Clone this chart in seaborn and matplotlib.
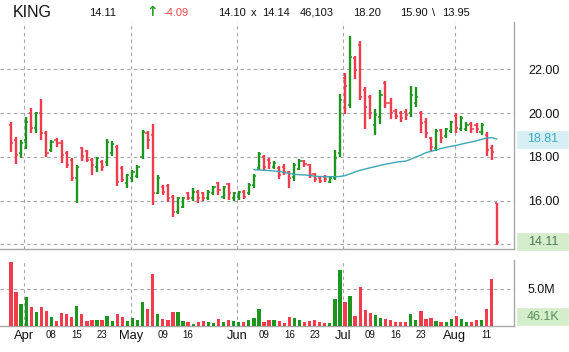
import numpy as np
import pandas as pd
import matplotlib
matplotlib.use('Agg')
import matplotlib.pyplot as plt
import matplotlib.transforms as mtransforms
from matplotlib.patches import Rectangle
import seaborn as sns

# ==================== data ====================
holidays = ['2014-04-18', '2014-05-26', '2014-07-04']
dates = pd.bdate_range('2014-03-27', '2014-08-13')
dates = dates[~dates.isin(pd.to_datetime(holidays))]

opens = [19.45, 18.77, 18.16, 18.77, 19.99, 19.30, 19.99, 19.07, 18.31, 18.77,
         18.62, 18.16, 17.85, 17.02, 18.39, 18.27, 17.85, 17.55, 17.78, 17.78,
         18.16, 18.46, 17.47, 16.79, 17.02, 17.14, 18.01, 19.07, 19.00, 16.33,
         16.63, 16.68, 16.18, 15.49, 15.72, 16.33, 16.10, 16.41, 16.33, 16.13,
         16.33, 16.79, 16.18, 16.74, 16.10, 16.18, 16.41, 16.33, 16.71, 17.47,
         18.01, 17.85, 17.55, 17.50, 17.55, 17.32, 17.09, 17.44, 17.81, 17.63,
         17.20, 17.02, 17.09, 16.86, 17.05, 18.16, 21.60, 20.37, 22.50, 23.11,
         21.05, 20.75, 19.45, 19.84, 21.36, 20.45, 20.09, 19.99, 20.03, 19.99,
         20.45, 19.99, 19.61, 18.84, 18.39, 19.23, 18.97, 19.18, 19.88, 19.27,
         19.27, 19.50, 19.45, 19.12, 19.00, 18.39, 15.90]
highs = [19.61, 18.92, 18.77, 19.80, 20.22, 20.03, 20.64, 19.18, 18.77, 18.87,
         18.77, 18.27, 17.93, 17.63, 18.46, 18.31, 17.93, 17.98, 17.85, 18.80,
         18.72, 18.54, 17.59, 17.21, 17.38, 17.63, 19.23, 19.18, 19.50, 17.17,
         16.71, 16.74, 16.25, 16.18, 16.18, 16.41, 16.56, 16.48, 16.41, 16.48,
         16.66, 16.86, 16.66, 16.82, 16.41, 16.45, 16.48, 16.79, 17.21, 18.23,
         18.08, 17.93, 17.81, 17.59, 17.66, 17.37, 17.73, 17.88, 17.85, 17.67,
         17.26, 17.06, 17.17, 17.06, 18.31, 20.87, 21.82, 23.52, 22.61, 23.30,
         21.21, 20.83, 20.19, 21.05, 21.47, 20.67, 20.19, 20.09, 20.19, 21.24,
         21.21, 20.09, 19.76, 18.92, 19.27, 19.27, 19.33, 19.64, 19.99, 19.87,
         19.58, 19.58, 19.56, 19.53, 19.15, 18.54, 15.90]
lows = [18.23, 17.66, 17.93, 18.36, 19.07, 19.07, 18.77, 18.01, 18.23, 18.46,
        17.70, 17.47, 16.91, 15.87, 17.81, 17.75, 17.17, 17.32, 17.35, 17.59,
        18.04, 16.68, 16.83, 16.59, 16.86, 17.05, 17.90, 18.36, 15.80, 16.28,
        16.25, 15.92, 15.26, 15.37, 15.64, 16.02, 15.98, 15.87, 15.98, 16.02,
        16.25, 16.25, 16.07, 16.02, 15.98, 16.02, 16.07, 16.25, 16.59, 17.40,
        17.40, 17.44, 17.44, 16.98, 17.17, 16.56, 16.89, 17.40, 17.55, 17.05,
        16.83, 16.79, 16.86, 16.79, 16.94, 18.01, 19.94, 20.25, 21.56, 20.60,
        19.27, 19.73, 19.00, 19.50, 20.25, 19.73, 19.73, 19.58, 19.68, 19.84,
        20.29, 19.07, 18.84, 18.27, 18.27, 18.62, 18.84, 19.07, 19.07, 19.18,
        19.18, 19.07, 19.07, 19.00, 18.05, 17.85, 13.95]
closes = [18.62, 18.08, 18.62, 19.61, 19.30, 19.99, 19.07, 18.16, 18.69, 18.62,
          18.08, 17.63, 17.02, 17.55, 18.05, 17.85, 17.63, 17.93, 17.55, 18.69,
          18.57, 16.86, 16.94, 17.17, 17.32, 17.55, 19.15, 18.77, 16.33, 17.02,
          16.41, 16.10, 15.49, 16.10, 16.10, 16.13, 16.41, 16.10, 16.10, 16.41,
          16.60, 16.48, 16.63, 16.33, 16.33, 16.41, 16.18, 16.71, 17.14, 18.11,
          17.55, 17.70, 17.70, 17.17, 17.32, 17.02, 17.63, 17.81, 17.66, 17.17,
          16.98, 16.89, 16.98, 17.02, 17.93, 20.60, 21.25, 22.58, 21.97, 20.75,
          20.29, 19.99, 19.91, 20.83, 20.45, 19.99, 19.88, 19.76, 19.91, 20.83,
          20.75, 19.53, 19.07, 18.46, 19.18, 18.84, 19.27, 19.58, 19.30, 19.76,
          19.45, 19.27, 19.27, 19.45, 18.31, 18.20, 14.11]
# volume in millions
volumes = [8.57, 4.55, 2.90, 3.88, 2.54, 1.88, 2.54, 2.00, 1.20, 0.67,
           1.74, 1.60, 1.20, 2.63, 1.56, 0.67, 0.76, 0.76, 0.76, 1.34,
           0.67, 1.56, 1.20, 0.62, 1.03, 0.76, 3.21, 2.23, 7.00, 1.56,
           0.89, 0.76, 1.88, 1.88, 0.67, 0.49, 0.27, 0.54, 0.67, 0.54,
           0.40, 0.89, 0.54, 0.76, 0.62, 0.54, 0.54, 0.76, 1.07, 2.23,
           0.54, 0.76, 0.76, 0.67, 0.40, 1.20, 1.03, 0.76, 0.54, 0.67,
           0.76, 0.54, 0.45, 0.40, 3.57, 7.46, 3.21, 4.02, 1.29, 5.22,
           2.10, 1.74, 1.43, 1.07, 0.89, 0.85, 0.54, 0.54, 0.54, 1.56,
           0.76, 2.00, 0.94, 1.07, 0.67, 0.54, 0.54, 0.98, 1.29, 0.89,
           0.54, 0.54, 0.76, 0.76, 2.23, 6.25, 0.046]
# 50-day moving average, starting 2014-06-05
ma_start = '2014-06-05'
ma50 = [17.41, 17.40, 17.38, 17.37, 17.35, 17.33, 17.28, 17.24, 17.20, 17.18,
        17.17, 17.15, 17.11, 17.10, 17.09, 17.09, 17.09, 17.10, 17.14, 17.22,
        17.31, 17.38, 17.44, 17.50, 17.55, 17.61, 17.66, 17.70, 17.75, 17.78,
        17.80, 17.89, 17.99, 18.08, 18.19, 18.25, 18.31, 18.38, 18.43, 18.48,
        18.52, 18.58, 18.63, 18.68, 18.73, 18.80, 18.85, 18.88, 18.81]

day_ticks = ['2014-04-08', '2014-04-15', '2014-04-23', '2014-05-09', '2014-05-16',
             '2014-06-09', '2014-06-16', '2014-06-23', '2014-07-09', '2014-07-16',
             '2014-07-23', '2014-08-11']
price_ticks = [16, 18, 20, 22]
price_grid = [14, 16, 18, 20, 22]

# header line: text, left x (px), size (pt), colour
header = [('KING', 13, 11.5, '#111111'), ('14.11', 89, 8, '#111111'),
          ('\u2191', 146, 10, '#22a022'), ('-4.09', 163, 8, '#e84848'),
          ('14.10', 218, 8, '#111111'), ('x', 251, 8, '#111111'),
          ('14.14', 262, 8, '#111111'), ('46,103', 300, 8, '#111111'),
          ('18.20', 353, 8, '#111111'), ('15.90', 400, 8, '#111111'),
          ('\\', 432, 8, '#111111'), ('13.95', 442, 8, '#111111')]

# ==================== styling ====================
sns.set_style('white')
plt.rcParams['font.family'] = ['Liberation Sans', 'DejaVu Sans']

UP = '#1c961f'
DOWN = '#f03c4c'
GRID = '#a4a4a4'
SPINE = '#a8a8a8'
MA_COLOR = '#3aa7b4'

pos = np.arange(len(dates))
o, h, l, c = map(np.array, (opens, highs, lows, closes))
up = c >= o
cols = np.where(up, UP, DOWN)

W, H = 569, 352
fig = plt.figure(figsize=(W / 100, H / 100), dpi=100)
ax = fig.add_axes([0, (H - 249) / H, 514 / W, (249 - 22) / H])
axv = fig.add_axes([0, (H - 326) / H, 514 / W, (326 - 260) / H])

xlim = (-2.17, 99.4)

# ---- price panel (OHLC bars + 50d MA) ----
ax.vlines(pos, l, h, colors=cols, lw=1.7, zorder=3)
ax.hlines(o, pos - 0.42, pos, colors=cols, lw=1.1, zorder=3)
ax.hlines(c, pos, pos + 0.42, colors=cols, lw=1.1, zorder=3)

ma_pos = np.arange(dates.get_loc(pd.Timestamp(ma_start)), len(dates))
sns.lineplot(x=ma_pos, y=ma50, ax=ax, color=MA_COLOR, lw=1.0, zorder=4)

ax.set_xlim(*xlim)
ax.set_ylim(13.785, 24.16)

# ---- volume panel ----
vol_df = pd.DataFrame({'pos': pos, 'vol': volumes})
sns.barplot(data=vol_df, x='pos', y='vol', hue='pos', palette=list(cols),
            width=0.65, saturation=1, errorbar=None, legend=False,
            linewidth=0, edgecolor='none', ax=axv, zorder=3)
axv.set_xlim(*xlim)
axv.set_ylim(0, 8.83)

# month boundaries: first trading day of each month
month_first = pd.Series(pos, index=dates).groupby(dates.to_period('M')).first()
month_first = month_first[month_first.index > month_first.index[0]]
month_pos = month_first.values - 0.33
month_lab = [p.strftime('%b') for p in month_first.index]
day_pos = [dates.get_loc(pd.Timestamp(d)) for d in day_ticks]
day_lab = [pd.Timestamp(d).strftime('%d') for d in day_ticks]

dash = dict(color=GRID, lw=0.8, ls=(0, (3, 3)), zorder=0)
for a in (ax, axv):
    for mp in month_pos:
        a.axvline(mp, **dash)
    for s in ('left', 'top'):
        a.spines[s].set_visible(False)
    for s in ('right', 'bottom'):
        a.spines[s].set_color(SPINE)
        a.spines[s].set_linewidth(1.0)
    a.yaxis.tick_right()
    a.tick_params(axis='y', length=0, pad=10, labelsize=9, colors='#111111')
    a.set_xlabel('')
    a.set_ylabel('')
for g in price_grid:
    ax.axhline(g, **dash)
axv.axhline(5, **dash)

ax.set_yticks(price_ticks, [f'{t:.2f}' for t in price_ticks])
ax.set_xticks([])
axv.set_yticks([5], ['5.0M'])

tick_pos = list(month_pos) + day_pos
tick_lab = month_lab + day_lab
axv.set_xticks(tick_pos, tick_lab)
axv.tick_params(axis='x', length=0, pad=3, colors='#111111')
for t in axv.get_xticklabels():
    t.set_fontsize(9.3 if t.get_text().isalpha() else 7)

# ---- value boxes on the right axis ----
ident = mtransforms.IdentityTransform()


def value_box(a, yval, label, fc, tc, min_y=None):
    y = a.transData.transform((0, yval))[1]
    if min_y is not None:
        y = max(y, min_y)
    fig.add_artist(Rectangle((517, y - 8.5), 51, 17, transform=ident,
                             fc=fc, ec=fc, lw=0.5, zorder=5))
    fig.text(543, y, label, transform=ident, ha='center', va='center',
             fontsize=9, color=tc, zorder=6)


value_box(ax, ma50[-1], f'{ma50[-1]:.2f}', '#d6eff5', '#3fa9c4')
value_box(ax, closes[-1], f'{closes[-1]:.2f}', '#d4edcb', '#4f7a4f')
value_box(axv, volumes[-1], '46.1K', '#d4edcb', '#5a8f5a', min_y=H - 326 + 9.5)

# ---- header line ----
for txt, x, fs, col in header:
    if txt == '\u2191':
        fig.text(x, H - 12.5, txt, transform=ident, ha='left', va='center',
                 fontsize=fs, color=col, family='DejaVu Sans', fontweight='bold')
    else:
        fig.text(x, H - 12.5, txt, transform=ident, ha='left', va='center',
                 fontsize=fs, color=col)

fig.savefig('out.png', dpi=100)
